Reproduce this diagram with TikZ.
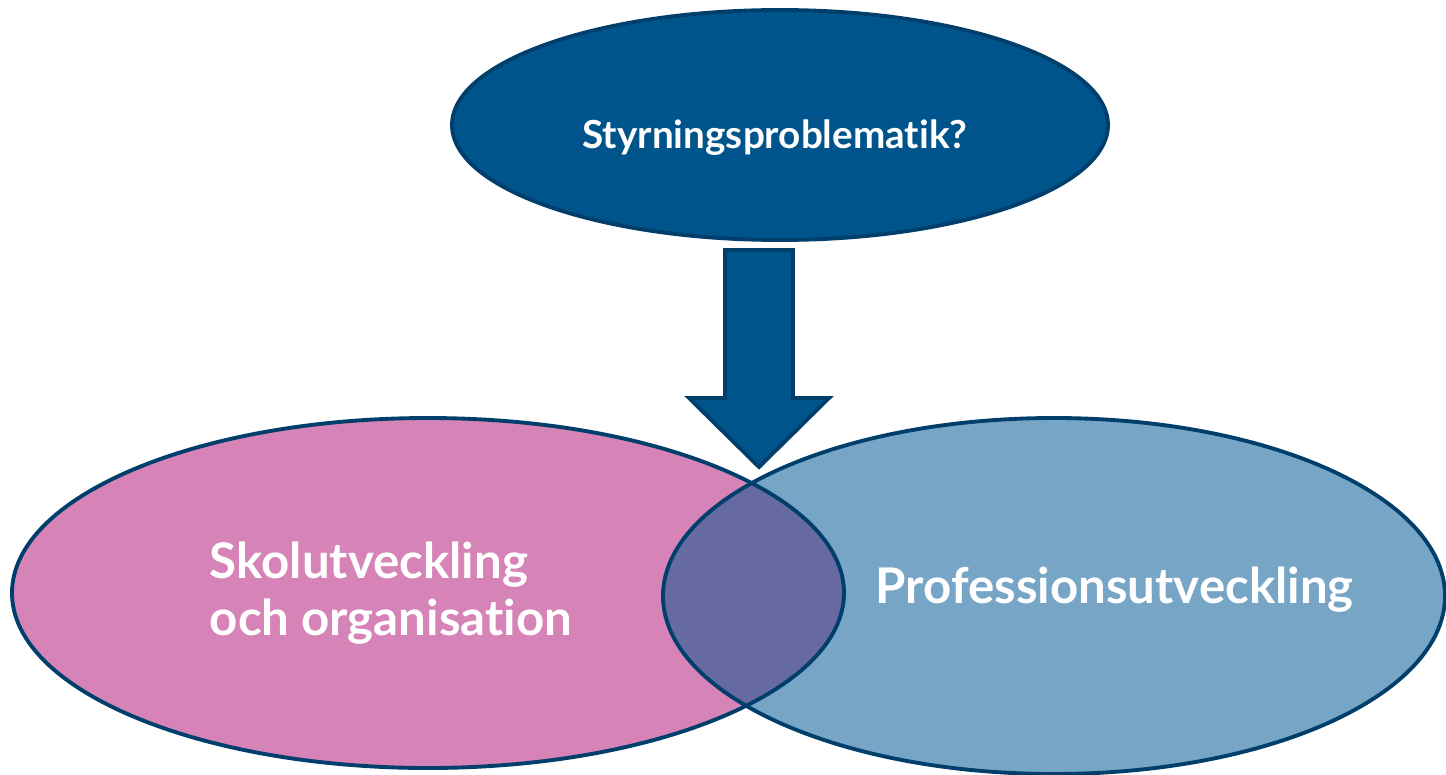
\documentclass[tikz,border=0pt]{standalone}
\usepackage{fontspec}
\setmainfont{Lato}[Ligatures={NoCommon,NoRequired,NoContextual}]
\usetikzlibrary{positioning}
\definecolor{navy}{HTML}{00548C}
\definecolor{rim}{HTML}{003F6B}
\definecolor{rosa}{HTML}{D683B8}
\definecolor{ljusbla}{HTML}{77A5C6}
\definecolor{lila}{HTML}{666AA0}
\tikzset{
  rubrik/.style={text=white, font=\fontsize{22}{26}\selectfont\bfseries},
  etikett/.style={text=white, font=\fontsize{28}{32.5}\selectfont\bfseries, align=left}
}
\begin{document}
\begin{tikzpicture}[x=0.02cm, y=-0.02cm, line width=2.2pt]
    \useasboundingbox (0,0) rectangle (1446,774);

    % Centres of the three ellipses
    \coordinate (topc) at (780,125);
    \coordinate (skolc) at (428,593);
    \coordinate (profc) at (1054,596);

    % Top ellipse
    \draw[rim, fill=navy] (topc) ellipse (328 and 115);

    % Lower ellipses with their overlap
    \fill[rosa] (skolc) ellipse (416 and 175);
    \fill[ljusbla] (profc) ellipse (391 and 178);
    \begin{scope}
        \clip (skolc) ellipse (416 and 175);
        \fill[lila] (profc) ellipse (391 and 178);
    \end{scope}
    \draw[rim] (skolc) ellipse (416 and 175);
    \draw[rim] (profc) ellipse (391 and 178);

    % Block arrow down to the overlap
    \draw[rim, fill=navy, line join=miter]
        (725,250) -- (793,250) -- (793,398) -- (829,398) -- (759,467)
        -- (689,398) -- (725,398) -- cycle;

    % Labels
    \node[rubrik] (styr) at (topc) [xshift=-0.1cm, yshift=-0.25cm] {Styrningsproblematik?};
    \node[etikett, anchor=west] (skola) at (202,593) {Skolutveckling\\och organisation};
    \node[etikett, anchor=west] (prof) at (868,590) {Professionsutveckling};
\end{tikzpicture}
\end{document}
